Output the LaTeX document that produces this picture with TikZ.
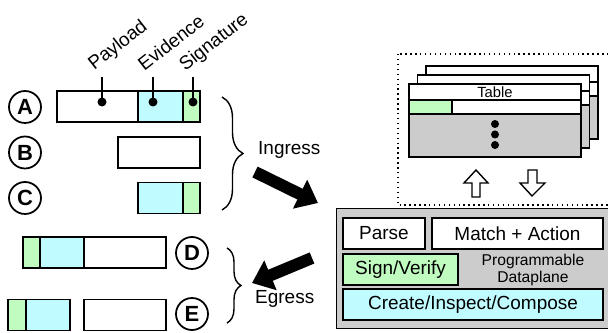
\documentclass[tikz,border=0pt]{standalone}
\usepackage{fontspec}
\setmainfont{Liberation Sans}
\usetikzlibrary{arrows.meta,positioning,decorations.pathreplacing}

\definecolor{evcyan}{RGB}{192,252,255}
\definecolor{siggreen}{RGB}{192,252,192}

\tikzset{
  pkt/.style={draw, line width=0.8pt, minimum height=0.62cm, inner sep=0pt, outer sep=0pt},
  evid/.style={pkt, fill=evcyan},
  sigc/.style={pkt, fill=siggreen},
  tag/.style={circle, draw, line width=1pt, minimum size=0.64cm, inner sep=0pt, font=\bfseries\fontsize{12.5}{12.5}\selectfont},
  fieldlbl/.style={transform canvas={rotate around={38:(#1)}}, anchor=base west, inner sep=0pt},
  blk/.style={draw, line width=0.8pt, minimum height=0.62cm, inner sep=0pt},
  tbl/.style={draw, line width=0.8pt, inner sep=0pt, outer sep=0pt, minimum width=3.44cm},
  pin/.style={circle, fill, inner sep=0pt, minimum size=0.18cm},
  fat/.style={line width=0.24cm, -{Triangle[length=0.4cm, width=0.62cm]}},
  curly/.style={decorate, decoration={brace, amplitude=#1}, line width=0.8pt},
}

\begin{document}
\begin{tikzpicture}[x=0.02cm, y=-0.02cm, font=\fontsize{10.8}{13}\selectfont]
    \useasboundingbox (0,0) rectangle (608,333);
    \clip (0,0) rectangle (608,333);

    % packets on the way in
    \node[pkt, minimum width=1.62cm, anchor=west] (aPay) at (57,106.5) {};
    \node[evid, minimum width=0.9cm, right=0pt of aPay] (aEv) {};
    \node[sigc, minimum width=0.34cm, right=0pt of aEv] (aSig) {};
    \node[pkt, minimum width=1.64cm, anchor=east] (bPay) at (200,152.5) {};
    \node[sigc, minimum width=0.34cm, anchor=east] (cSig) at (200,198) {};
    \node[evid, minimum width=0.9cm, left=0pt of cSig] (cEv) {};

    \node[tag] (tagA) at (25,107) {A};
    \node[tag] (tagB) at (25,152.5) {B};
    \node[tag] (tagC) at (25,198) {C};

    % field labels
    \node[pin] (dotPay) at (102,102) {};
    \node[pin] (dotEv) at (153,102) {};
    \node[pin] (dotSig) at (193,102) {};
    \coordinate (topPay) at (102,77);
    \coordinate (topEv) at (153,77);
    \coordinate (topSig) at (193,77);
    \draw[line width=0.8pt] (dotPay.center) -- (topPay);
    \draw[line width=0.8pt] (dotEv.center) -- (topEv);
    \draw[line width=0.8pt] (dotSig.center) -- (topSig);
    \coordinate (basePay) at (94,71);
    \coordinate (baseEv) at (144,72);
    \coordinate (baseSig) at (185,72);
    \node[fieldlbl=basePay] (lblPay) at (basePay) {Payload};
    \node[fieldlbl=baseEv] (lblEv) at (baseEv) {Evidence};
    \node[fieldlbl=baseSig] (lblSig) at (baseSig) {Signature};

    % packets on the way out
    \node[sigc, minimum width=0.34cm, anchor=west] (dSig) at (23,252.5) {};
    \node[evid, minimum width=0.88cm, right=0pt of dSig] (dEv) {};
    \node[pkt, minimum width=1.64cm, right=0pt of dEv] (dPay) {};
    \node[sigc, minimum width=0.36cm, anchor=west] (eSig) at (8,315) {};
    \node[evid, minimum width=0.88cm, right=0pt of eSig] (eEv) {};
    \node[pkt, minimum width=1.64cm, anchor=west] (ePay) at (84,315) {};

    \node[tag] (tagD) at (192,253) {D};
    \node[tag] (tagE) at (192,314) {E};

    % braces and arrows
    \coordinate (inTop) at (222,97);
    \coordinate (inBot) at (222,210);
    \draw[curly=0.42cm] (inTop) -- (inBot);
    \node[anchor=west] (ingress) at (252,150) {Ingress};
    \coordinate (inFrom) at (255,172);
    \coordinate (inTo) at (318,203);
    \draw[fat] (inFrom) -- (inTo);

    \coordinate (outTop) at (227,248);
    \coordinate (outBot) at (227,323);
    \draw[curly=0.28cm] (outTop) -- (outBot);
    \node[anchor=west] (egress) at (249,299) {Egress};
    \coordinate (outFrom) at (312,258);
    \coordinate (outTo) at (252,283);
    \draw[fat] (outFrom) -- (outTo);

    % tables
    \draw[dotted, line width=0.8pt] (398,54) rectangle (640,205);
    \foreach \i/\dx/\dy in {2/17/-18, 1/8.5/-9, 0/0/0} {
        \begin{scope}[shift={(\dx,\dy)}]
            \node[tbl, fill=white, anchor=north west, minimum height=0.32cm] (head\i) at (409,84) {};
            \node[tbl, fill=white, minimum height=0.28cm, below=0pt of head\i] (row\i) {};
            \node[tbl, fill=gray!40, minimum height=0.86cm, below=0pt of row\i] (body\i) {};
        \end{scope}
    }
    \node[inner sep=0pt, font=\fontsize{8.4}{9}\selectfont] (tblname) at (head0.center) {Table};
    \node[tbl, fill=siggreen, minimum width=0.86cm, minimum height=0.28cm, anchor=west] (cell) at (row0.west) {};
    \node[pin, minimum size=0.16cm] (dot1) at (495,124) {};
    \node[pin, minimum size=0.16cm] (dot2) at (495,134.5) {};
    \node[pin, minimum size=0.16cm] (dot3) at (495,145) {};

    \draw[fill=white, line width=0.8pt] (476,170) -- (488,183) -- (480,183) -- (480,197)
        -- (472,197) -- (472,183) -- (464,183) -- cycle;
    \draw[fill=white, line width=0.8pt] (532,196) -- (545,183) -- (537,183) -- (537,170)
        -- (528,170) -- (528,183) -- (520,183) -- cycle;

    % dataplane
    \node[draw, line width=0.8pt, fill=gray!40, anchor=north west, minimum width=5.9cm, minimum height=2.4cm] (dp) at (336,208) {};
    \node[blk, fill=white, minimum width=1.64cm] (parse) at (384,233.5) {Parse};
    \node[blk, fill=white, minimum width=3.42cm] (match) at (517.5,233.5) {Match + Action};
    \node[blk, fill=siggreen, minimum width=2.3cm] (sign) at (400.5,269.5) {Sign/Verify};
    \node[align=center, inner sep=0pt, font=\fontsize{8.9}{9.6}\selectfont] (dpname) at (533,270) {Programmable\\Dataplane};
    \node[blk, fill=evcyan, minimum width=5.2cm] (compose) at (473,304.5) {Create/Inspect/Compose};
\end{tikzpicture}
\end{document}
